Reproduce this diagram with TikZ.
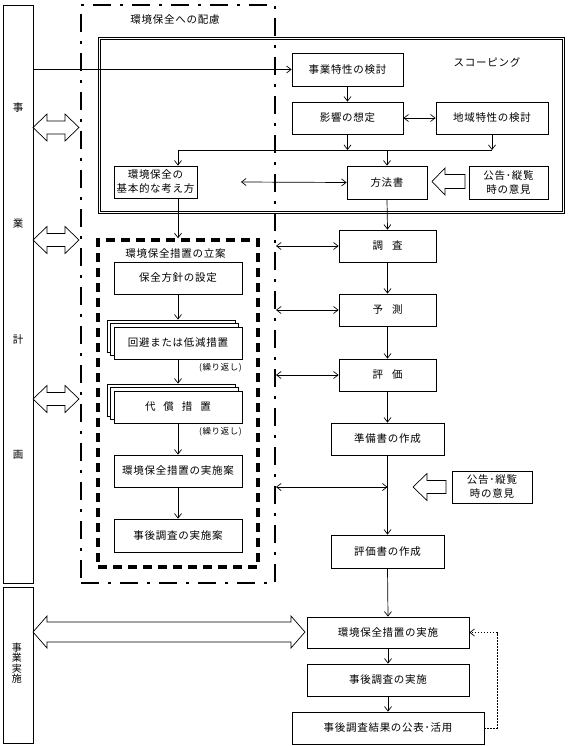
\documentclass[tikz,border=0pt]{standalone}
\usepackage{fontspec}
\setmainfont{Noto Sans CJK JP}[LetterSpace=7]
\usetikzlibrary{arrows.meta}
\begin{document}
\begin{tikzpicture}[x=1pt,y=-1pt,
  box/.style={draw, line width=0.8pt, inner sep=0pt, align=center, font=\fontsize{10.5}{14}\selectfont},
  sbox/.style={box, fill=white, minimum width=128pt, minimum height=32pt},
  lbl/.style={inner sep=0pt, align=center, font=\fontsize{10.5}{13}\selectfont},
  small/.style={inner sep=0pt, font=\fontsize{8.5}{10}\selectfont},
  arr/.style={line width=0.7pt, -{Straight Barb[length=4.5pt,width=7pt]}},
  darr/.style={line width=0.7pt, {Straight Barb[length=4.5pt,width=7pt]}-{Straight Barb[length=4.5pt,width=7pt]}},
  dotarr/.style={line width=0.7pt, dash pattern=on 1.5pt off 1.5pt, -{Straight Barb[length=4.5pt,width=7pt]}},
  hollow/.style={line width=0.7pt, fill=white, line join=miter},
  ddframe/.style={draw, line width=2pt, dash pattern=on 18pt off 9pt on 3pt off 9pt, inner sep=0pt},
  dframe/.style={draw, line width=3.5pt, dash pattern=on 9pt off 6pt, inner sep=0pt},
]
\useasboundingbox (0,0) rectangle (567,746);

% left column
\node[box, minimum width=30pt, minimum height=578pt] (plan) at (18,294) {};
\node[lbl] (c1) at (18,108) {事};
\node[lbl] (c2) at (18,224) {業};
\node[lbl] (c3) at (18,340) {計};
\node[lbl] (c4) at (18,455) {画};
\node[box, minimum width=30pt, minimum height=156pt] (exec) at (18,665) {};
\node[inner sep=0pt, align=center, font=\fontsize{10}{10.5}\selectfont] (execl) at (17,663) {事\\業\\実\\施};

% frames
\node[draw, double, double distance=1.6pt, line width=0.8pt, inner sep=0pt, minimum width=464pt, minimum height=174pt] (scoping) at (331.5,125.5) {};
\node[lbl] (scopel) at (487,62) {スコーピング};
\node[ddframe, minimum width=194pt, minimum height=578pt] (care) at (178,294) {};
\node[lbl] (carel) at (175,20) {環境保全への配慮};
\node[dframe, minimum width=160pt, minimum height=327pt] (plan2) at (178,403.5) {};
\node[lbl] (plan2l) at (175.5,254) {環境保全措置の立案};

% scoping boxes
\node[box, minimum width=111pt, minimum height=33pt] (feat) at (347.5,69.5) {事業特性の検討};
\node[box, minimum width=111pt, minimum height=32pt] (impact) at (347.5,118) {影響の想定};
\node[box, minimum width=112pt, minimum height=32pt] (region) at (492,118) {地域特性の検討};
\node[box, minimum width=80pt, minimum height=33pt] (method) at (387,182.5) {方法書};
\node[box, minimum width=79pt, minimum height=33pt] (pub1) at (508.5,182.5) {公告･縦覧\\時の意見};
\node[box, minimum width=83pt, minimum height=32pt] (basic) at (155.5,182) {環境保全の\\基本的な考え方};
\coordinate (jL) at (178,150);
\coordinate (jR) at (492,150);
\coordinate (bm) at (241,182);

% planning boxes
\node[box, minimum width=128pt, minimum height=32pt] (policy) at (178,278) {保全方針の設定};
\node[sbox] (avoidB) at (171,336) {};
\node[sbox] (avoidM) at (174.5,339.5) {};
\node[sbox] (avoid) at (178,343) {回避または低減措置};
\node[small, anchor=east] (rep1) at (242,367.5) {(繰り返し)};
\node[sbox] (compB) at (171,400) {};
\node[sbox] (compM) at (174.5,403.5) {};
\node[sbox] (comp) at (178,407) {代\hspace{8pt}償\hspace{8pt}措\hspace{8pt}置};
\node[small, anchor=east] (rep2) at (242,431.5) {(繰り返し)};
\node[box, minimum width=128pt, minimum height=32pt] (impl) at (178,471) {環境保全措置の実施案};
\node[box, minimum width=128pt, minimum height=33pt] (post) at (178,535.5) {事後調査の実施案};

% right column
\node[box, minimum width=97pt, minimum height=32pt] (survey) at (387.5,246) {調\hspace{9pt}査};
\node[box, minimum width=97pt, minimum height=32pt] (pred) at (387.5,310) {予\hspace{9pt}測};
\node[box, minimum width=97pt, minimum height=32pt] (eval) at (387.5,375) {評\hspace{9pt}価};
\node[box, minimum width=113pt, minimum height=32pt] (draft) at (387.5,439) {準備書の作成};
\node[box, minimum width=113pt, minimum height=33pt] (final) at (387.5,551.5) {評価書の作成};
\node[box, minimum width=80pt, minimum height=32pt] (pub2) at (492,487) {公告･縦覧\\時の意見};
\node[box, minimum width=162pt, minimum height=31pt] (implement) at (388,632.5) {環境保全措置の実施};
\node[box, minimum width=162pt, minimum height=32pt] (postimpl) at (388,680) {事後調査の実施};
\node[box, minimum width=192pt, minimum height=32pt] (result) at (388,728) {事後調査結果の公表･活用};
\coordinate (loop) at (497,728);

% connectors (scoping)
\draw[arr] (plan.east |- feat.west) -- (feat.west);
\draw[arr] (feat.south) -- (impact.north);
\draw[darr] (impact.east) -- (region.west);
\draw[line width=0.7pt] (jL) -- (jR);
\draw[arr] (impact.south) -- (impact.south |- jL);
\draw[arr] (region.south) -- (jR);
\draw[arr] (method.north |- jL) -- (method.north);
\draw[arr] (jL) -- (jL |- basic.north);
\draw[darr] (bm) -- (method.west);
\draw[arr] (method.south) -- (survey.north);
\draw[arr] (basic.south -| jL) -- (jL |- plan2.north);

% connectors (planning)
\draw[arr] (policy.south) -- (policy.south |- avoidB.north);
\draw[arr] (avoid.south) -- (avoid.south |- compB.north);
\draw[arr] (comp.south) -- (impl.north);
\draw[arr] (impl.south) -- (post.north);

% connectors (right)
\draw[arr] (survey.south) -- (pred.north);
\draw[arr] (pred.south) -- (eval.north);
\draw[arr] (eval.south) -- (draft.north);
\draw[arr] (draft.south) -- (final.north);
\draw[arr] (final.south) -- (implement.north);
\draw[arr] (implement.south) -- (postimpl.north);
\draw[arr] (postimpl.south) -- (result.north);
\draw[darr] (care.east |- survey.west) -- (survey.west);
\draw[darr] (care.east |- pred.west) -- (pred.west);
\draw[darr] (care.east |- eval.west) -- (eval.west);
\draw[darr] (care.east |- pub2.west) -- (draft.south |- pub2.west);
\draw[dotarr] (result.east) -- (loop) -- (loop |- implement.east) -- (implement.east);

% hollow arrows
\draw[hollow] (33,127.5) -- (47,114) -- (47,121) -- (65,121) -- (65,114) -- (79,127.5) -- (65,141) -- (65,134) -- (47,134) -- (47,141) -- cycle;
\draw[hollow] (33,240) -- (47,226.5) -- (47,233.5) -- (65,233.5) -- (65,226.5) -- (79,240) -- (65,253.5) -- (65,246.5) -- (47,246.5) -- (47,253.5) -- cycle;
\draw[hollow] (33,399) -- (47,385.5) -- (47,392.5) -- (65,392.5) -- (65,385.5) -- (79,399) -- (65,412.5) -- (65,405.5) -- (47,405.5) -- (47,412.5) -- cycle;
\draw[hollow] (33,632) -- (47,616) -- (47,622) -- (291,622) -- (291,616) -- (305,632) -- (291,648) -- (291,642) -- (47,642) -- (47,648) -- cycle;
\draw[hollow] (432,181.5) -- (445,168) -- (445,174.5) -- (465,174.5) -- (465,188.5) -- (445,188.5) -- (445,195) -- cycle;
\draw[hollow] (413,487) -- (427,473.5) -- (427,480.5) -- (446,480.5) -- (446,493.5) -- (427,493.5) -- (427,500.5) -- cycle;
\end{tikzpicture}
\end{document}
